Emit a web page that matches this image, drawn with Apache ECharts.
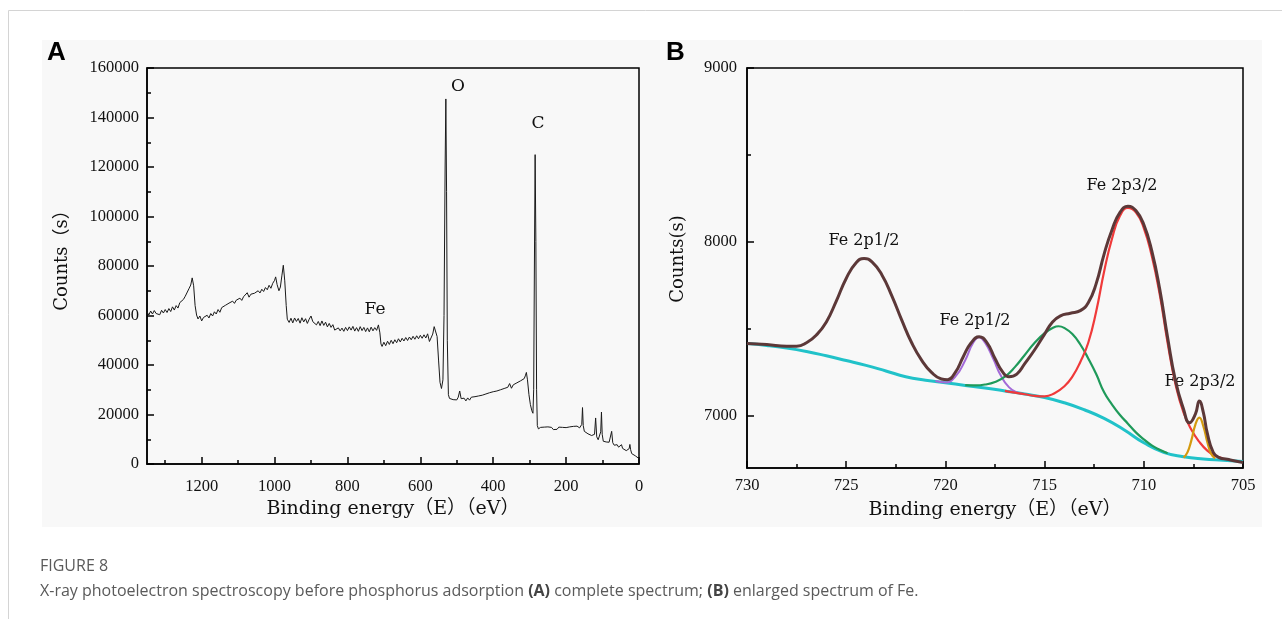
<!DOCTYPE html>
<html>
<head>
<meta charset="utf-8">
<script src="https://cdn.jsdelivr.net/npm/echarts@6/dist/echarts.min.js"></script>
<style>
  html, body { margin: 0; padding: 0; background: #fff; }
  #chart { width: 1282px; height: 619px; }
</style>
</head>
<body>
<div id="chart"></div>
<script>
// (A) survey spectrum, [binding energy eV, counts]
var surveyPoints = [
  [1350,61500],[1345,60200],[1340,61800],[1335,60600],[1330,62000],[1325,60800],[1320,61400],[1315,60300],
  [1310,62100],[1305,61000],[1300,62400],[1295,61200],[1290,62800],[1285,61600],[1280,63500],[1275,62200],
  [1270,64000],[1265,63000],[1260,65200],[1255,64400],[1250,66500],[1245,67800],[1240,68500],[1235,70800],
  [1230,72300],[1226,75200],[1222,72000],[1218,64000],[1214,60200],[1210,58600],[1205,59800],[1200,57800],
  [1195,59200],[1190,58400],[1185,60100],[1180,59000],[1175,60800],[1170,59800],[1165,61500],[1160,60600],
  [1155,62400],[1150,61300],[1145,63200],[1140,62400],[1135,64100],[1130,63400],[1125,65000],[1120,64200],
  [1115,65800],[1110,64900],[1105,66200],[1100,65500],[1095,67000],[1090,66100],[1085,67600],[1080,66800],
  [1075,69200],[1070,67400],[1065,68600],[1060,67800],[1055,69000],[1050,68300],[1045,70000],[1040,69100],
  [1035,70600],[1030,69700],[1025,71300],[1020,70400],[1015,72200],[1010,71000],[1005,73000],[1000,74200],
  [997,75600],[993,72500],[988,70000],[984,71500],[980,76000],[976,80300],[972,74000],[968,64000],
  [965,58500],[960,57200],[955,58900],[950,57000],[945,59000],[940,57600],[935,58800],[930,56900],
  [925,59100],[920,57400],[915,58700],[910,56800],[905,58500],[900,59800],[895,57500],[890,58200],
  [885,56200],[880,57600],[875,55900],[870,57800],[865,56000],[860,57300],[855,55400],[850,56800],
  [845,55200],[840,56300],[835,54100],[830,53600],[825,55000],[820,53800],[815,54900],[810,53600],
  [805,55200],[800,53900],[795,55400],[790,54100],[785,55600],[780,53700],[775,55100],[770,53600],
  [765,55500],[760,53900],[755,55200],[750,53500],[745,55000],[740,53400],[735,55300],[730,53800],
  [725,55100],[720,54000],[715,56200],[711,53000],[708,48500],[705,47500],[700,49200],[695,47800],
  [690,49600],[685,48300],[680,50000],[675,48600],[670,50200],[665,49000],[660,50600],[655,49300],
  [650,50800],[645,49700],[640,51100],[635,49900],[630,51300],[625,50200],[620,51600],[615,50400],
  [610,51800],[605,50600],[600,52000],[595,50800],[590,52200],[585,50900],[580,52600],[575,49500],
  [570,48800],[566,52500],[562,55500],[558,56300],[554,51500],[550,42000],[546,33000],[542,30500],
  [538,34000],[535,60000],[532,120000],[530,147500],[528,110000],[526,50000],[523,28000],[520,26500],
  [515,27200],[510,26000],[505,26800],[500,25900],[496,27000],[492,29500],[488,26400],[484,25600],
  [480,26600],[475,25500],[470,26700],[465,25800],[460,27000],[455,26200],[450,27200],[445,26400],
  [440,27500],[435,26800],[430,27800],[425,27100],[420,28300],[415,27500],[410,28800],[405,28000],
  [400,29200],[395,28400],[390,29500],[385,28700],[380,30000],[375,29200],[370,30500],[365,29700],
  [360,31000],[355,32500],[350,30600],[345,32000],[340,31400],[335,32800],[330,32100],[325,33600],
  [320,33000],[315,34500],[312,35600],[309,37000],[306,34000],[302,28000],[298,24000],[294,21500],
  [291,20500],[289,30000],[287,80000],[285,125000],[283,90000],[281,30000],[279,15500],[276,14200],
  [270,14800],[265,14000],[260,14900],[255,14100],[250,15000],[245,14200],[240,14800],[235,13900],
  [230,14700],[225,14000],[220,14900],[215,14100],[210,14800],[205,14000],[200,14700],[195,14200],
  [190,15000],[185,14400],[180,15200],[175,14700],[170,15300],[166,15100],[163,14600],[160,14200],
  [157,16000],[155,22800],[153,15500],[150,13200],[145,12800],[140,12200],[135,12000],[130,11500],
  [125,11000],[122,12000],[119,18600],[116,11000],[112,9800],[108,10500],[105,13000],[103,21000],
  [101,12000],[98,9200],[94,8700],[90,8900],[86,8200],[82,8800],[78,9200],[75,13200],
  [72,8600],[68,7600],[64,7200],[60,7800],[56,6800],[52,6900],[48,7800],[45,6300],
  [40,5800],[35,5400],[30,4800],[27,6200],[25,7900],[23,5800],[20,4200],[15,3800],
  [10,3300],[5,2800],[1,2300]
];
var surveyXMinor = [100, 300, 500, 700, 900, 1100, 1300];

// (B) Fe 2p fit, [binding energy eV, counts]
var envelopePoints = [
  [730,7416],[729,7410],[728,7400],[727.5,7400],[727,7420],[726.5,7465],[726,7540],[725.5,7660],
  [725,7790],[724.5,7880],[724.1,7905],[723.7,7885],[723.2,7810],[722.7,7690],[722.2,7550],[721.7,7420],
  [721.2,7320],[720.7,7250],[720.2,7212],[719.9,7208],[719.5,7250],[719.1,7340],[718.7,7420],[718.3,7455],
  [717.9,7420],[717.5,7330],[717.1,7250],[716.8,7225],[716.4,7240],[716,7300],[715.5,7380],[715,7470],
  [714.6,7540],[714.2,7575],[713.7,7590],[713.2,7605],[712.8,7650],[712.4,7760],[712,7930],[711.6,8070],
  [711.2,8170],[710.8,8205],[710.4,8180],[710,8100],[709.6,7950],[709.2,7730],[708.8,7450],[708.4,7200],
  [708,7040],[707.7,6960],[707.4,7010],[707.2,7085],[707,7020],[706.8,6900],[706.5,6790],[706.2,6760],
  [705.8,6750],[705.4,6740],[705,6732]
];
var backgroundPoints = [
  [730,7416],[729,7405],[728,7390],[727,7370],[726,7345],[725,7318],[724,7290],[723,7258],
  [722,7225],[721,7205],[720,7190],[719,7175],[718,7160],[717,7143],[716,7125],[715,7105],
  [714,7075],[713,7035],[712,6985],[711,6920],[710,6845],[709,6790],[708,6765],[707,6752],
  [706,6745],[705,6738]
];
var peak718Points = [
  [720.5,7200],[720,7192],[719.5,7225],[719,7320],[718.6,7420],[718.3,7452],[718,7420],[717.6,7330],
  [717.2,7230],[716.8,7165],[716.4,7135],[716,7125]
];
var peak714Points = [
  [719,7176],[718.5,7175],[718,7180],[717.5,7195],[717,7225],[716.5,7280],[716,7350],[715.5,7420],
  [715,7475],[714.6,7505],[714.3,7515],[714,7505],[713.6,7470],[713.2,7410],[712.8,7330],[712.4,7240],
  [712,7135],[711.6,7065],[711.2,7005],[710.8,6955],[710.4,6905],[710,6865],[709.6,6830],[709.2,6805],
  [708.8,6785]
];
var peak711Points = [
  [717,7143],[716.5,7133],[716,7124],[715.5,7115],[715,7112],[714.5,7130],[714,7170],[713.6,7225],
  [713.2,7310],[712.8,7420],[712.4,7600],[712,7830],[711.6,8020],[711.2,8150],[710.8,8195],[710.4,8170],
  [710,8080],[709.6,7920],[709.2,7700],[708.8,7420],[708.4,7180],[708,7020],[707.6,6920],[707.2,6850],
  [706.8,6800],[706.4,6770],[706,6755]
];
var peak707Points = [
  [708,6760],[707.8,6790],[707.6,6860],[707.4,6950],[707.2,6990],[707,6940],[706.8,6850],[706.6,6780],
  [706.4,6755]
];

var fitYLabels = [7000, 8000, 9000];
var fitYMinor = [7500, 8500];

var chart = echarts.init(document.getElementById('chart'));

var tickFont = { fontFamily: 'Liberation Serif', fontSize: 16.5, color: '#111' };
var titleFamily = "'DejaVu Serif', 'Noto Sans CJK SC'";
var blackLine = { color: '#000', width: 1.5 };
var plain = function (v) { return String(v); };
var axisLineBlack = { onZero: false, lineStyle: blackLine };

var option = {
  animation: false,
  backgroundColor: '#fff',
  grid: [
    { left: 147, top: 68, right: 643, bottom: 155, show: true, borderColor: '#000', borderWidth: 1.5 },
    { left: 747, top: 68, right: 39, bottom: 151, show: true, borderColor: '#000', borderWidth: 1.5 }
  ],
  xAxis: [
    {
      type: 'value', gridIndex: 0, min: 0, max: 1350, interval: 200, inverse: true, position: 'bottom',
      name: 'Binding energy（E）（eV）', nameLocation: 'middle', nameGap: 33,
      nameTextStyle: { fontFamily: titleFamily, fontSize: 19, color: '#111' },
      axisLine: axisLineBlack,
      axisTick: { inside: true, length: 7, lineStyle: blackLine },
      axisLabel: Object.assign({ margin: 14, showMaxLabel: false, formatter: plain }, tickFont),
      splitLine: { show: false }
    },
    {
      // short minor ticks of panel A
      type: 'value', gridIndex: 0, min: 0, max: 1350, inverse: true, position: 'bottom', offset: 0,
      axisLine: { show: false, onZero: false }, axisLabel: { show: false }, splitLine: { show: false },
      axisTick: { inside: true, length: 4, lineStyle: blackLine, customValues: surveyXMinor }
    },
    {
      type: 'value', gridIndex: 1, min: 705, max: 730, interval: 5, inverse: true, position: 'bottom',
      name: 'Binding energy（E）（eV）', nameLocation: 'middle', nameGap: 33,
      nameTextStyle: { fontFamily: titleFamily, fontSize: 19, color: '#111' },
      axisLine: axisLineBlack,
      axisTick: { inside: true, length: 7, lineStyle: blackLine },
      minorTick: { show: true, splitNumber: 2, length: 4, lineStyle: blackLine },
      axisLabel: Object.assign({ margin: 9, formatter: plain }, tickFont),
      splitLine: { show: false }
    }
  ],
  yAxis: [
    {
      type: 'value', gridIndex: 0, min: 0, max: 160000, interval: 20000, position: 'left',
      name: 'Counts（s）', nameLocation: 'middle', nameGap: 76, nameRotate: 90,
      nameTextStyle: { fontFamily: titleFamily, fontSize: 18, color: '#111', padding: [0, 0, 0, 20] },
      axisLine: axisLineBlack,
      axisTick: { inside: true, length: 7, lineStyle: blackLine },
      minorTick: { show: true, splitNumber: 2, length: 4, lineStyle: blackLine },
      axisLabel: Object.assign({ margin: 8, formatter: plain }, tickFont),
      splitLine: { show: false }
    },
    {
      type: 'value', gridIndex: 1, min: 6700, max: 9000, position: 'left',
      name: 'Counts(s)', nameLocation: 'middle', nameGap: 60, nameRotate: 90,
      nameTextStyle: { fontFamily: titleFamily, fontSize: 18, color: '#111', padding: [0, 0, 0, 18] },
      axisLine: axisLineBlack,
      axisTick: { inside: true, length: 7, lineStyle: blackLine, customValues: fitYLabels },
      axisLabel: Object.assign({ margin: 10, customValues: fitYLabels, formatter: plain }, tickFont),
      splitLine: { show: false }
    },
    {
      // short minor ticks of panel B
      type: 'value', gridIndex: 1, min: 6700, max: 9000, position: 'left', offset: 0,
      axisLine: { show: false, onZero: false }, axisLabel: { show: false }, splitLine: { show: false },
      axisTick: { inside: true, length: 4, lineStyle: blackLine, customValues: fitYMinor }
    }
  ],
  series: [
    {
      type: 'line', xAxisIndex: 0, yAxisIndex: 0, data: surveyPoints, symbol: 'none',
      lineStyle: { color: '#1a1a1a', width: 1 }
    },
    { type: 'line', xAxisIndex: 2, yAxisIndex: 1, data: backgroundPoints, symbol: 'none', smooth: true,
      lineStyle: { color: '#21c2c9', width: 3 } },
    { type: 'line', xAxisIndex: 2, yAxisIndex: 1, data: peak718Points, symbol: 'none', smooth: true,
      lineStyle: { color: '#a36ad8', width: 2 } },
    { type: 'line', xAxisIndex: 2, yAxisIndex: 1, data: peak714Points, symbol: 'none', smooth: true,
      lineStyle: { color: '#1f9a5a', width: 2.2 } },
    { type: 'line', xAxisIndex: 2, yAxisIndex: 1, data: peak711Points, symbol: 'none', smooth: true,
      lineStyle: { color: '#f03a3a', width: 2.2 } },
    { type: 'line', xAxisIndex: 2, yAxisIndex: 1, data: peak707Points, symbol: 'none', smooth: true,
      lineStyle: { color: '#d49a0e', width: 2.2 } },
    { type: 'line', xAxisIndex: 2, yAxisIndex: 1, data: envelopePoints, symbol: 'none', smooth: true,
      lineStyle: { color: '#5c3838', width: 3 } }
  ],
  graphic: [
    { type: 'rect', z: -10, silent: true, shape: { x: 42, y: 40, width: 1220, height: 487 }, style: { fill: '#f8f8f8' } },
    { type: 'line', silent: true, shape: { x1: 8.5, y1: 10.5, x2: 1282, y2: 10.5 }, style: { stroke: '#d4d4d4', lineWidth: 1 } },
    { type: 'line', silent: true, shape: { x1: 8.5, y1: 10.5, x2: 8.5, y2: 619 }, style: { stroke: '#d4d4d4', lineWidth: 1 } },
    { type: 'text', style: { text: 'A', x: 47, y: 53, font: 'bold 26px Liberation Sans', fill: '#000', verticalAlign: 'middle' } },
    { type: 'text', style: { text: 'B', x: 666, y: 53, font: 'bold 26px Liberation Sans', fill: '#000', verticalAlign: 'middle' } },
    { type: 'text', style: { text: 'O', x: 458, y: 87, font: "17px 'DejaVu Serif'", fill: '#111', align: 'center', verticalAlign: 'middle' } },
    { type: 'text', style: { text: 'C', x: 538, y: 124, font: "17px 'DejaVu Serif'", fill: '#111', align: 'center', verticalAlign: 'middle' } },
    { type: 'text', style: { text: 'Fe', x: 375, y: 310, font: "17px 'DejaVu Serif'", fill: '#111', align: 'center', verticalAlign: 'middle' } },
    { type: 'text', style: { text: 'Fe 2p1/2', x: 864, y: 241, font: "16px 'DejaVu Serif'", fill: '#111', align: 'center', verticalAlign: 'middle' } },
    { type: 'text', style: { text: 'Fe 2p1/2', x: 975, y: 321, font: "16px 'DejaVu Serif'", fill: '#111', align: 'center', verticalAlign: 'middle' } },
    { type: 'text', style: { text: 'Fe 2p3/2', x: 1122, y: 186, font: "16px 'DejaVu Serif'", fill: '#111', align: 'center', verticalAlign: 'middle' } },
    { type: 'text', style: { text: 'Fe 2p3/2', x: 1200, y: 382, font: "16px 'DejaVu Serif'", fill: '#111', align: 'center', verticalAlign: 'middle' } },
    { type: 'text', style: { text: 'FIGURE 8', x: 40, y: 566, font: '16px Open Sans', fill: '#5a5a5a', verticalAlign: 'middle' } },
    {
      type: 'text',
      style: {
        text: 'X-ray photoelectron spectroscopy before phosphorus adsorption {b|(A)} complete spectrum; {b|(B)} enlarged spectrum of Fe.',
        x: 40, y: 591, font: '16px Open Sans', fill: '#5a5a5a', verticalAlign: 'middle',
        rich: { b: { fontFamily: 'Open Sans', fontSize: 16, fontWeight: 'bold', fill: '#444' } }
      }
    }
  ]
};

chart.setOption(option);
</script>
</body>
</html>
